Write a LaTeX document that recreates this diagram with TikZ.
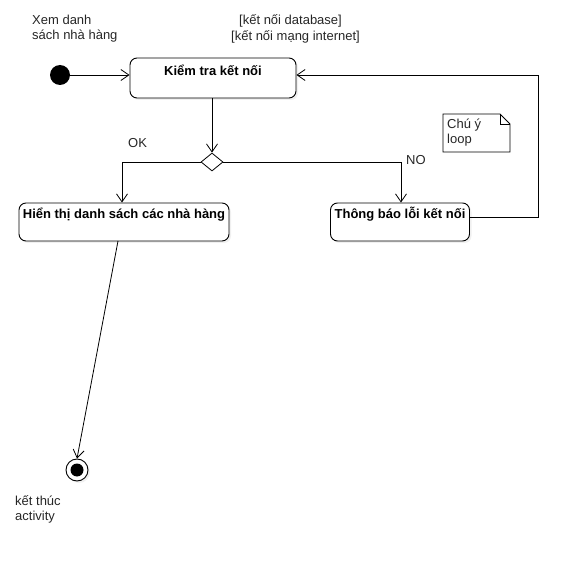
\documentclass[tikz,border=0pt]{standalone}
\usepackage{fontspec}
\setmainfont{Liberation Sans}
\usetikzlibrary{arrows.meta,shapes.geometric,shadows}
\begin{document}
\begin{tikzpicture}[x=1pt,y=-1pt,
  font=\fontsize{13}{15}\selectfont,
  act/.style={draw,rounded corners=7pt,fill=white,line width=0.9pt,
    drop shadow={shadow xshift=2pt,shadow yshift=-2pt,opacity=0.12}},
  flow/.style={draw,line width=0.8pt,-{Straight Barb[length=8pt,width=11pt]}},
  actlbl/.style={font=\fontsize{13}{15}\selectfont\bfseries,inner sep=0pt},
  txt/.style={inner sep=0pt,align=left,anchor=north west,text=black!85}]
\useasboundingbox (0,0) rectangle (579,567);

% start node
\node (start) [circle,fill=black,minimum size=20pt,inner sep=0pt] at (60,75) {};
\node[txt] (startlbl) at (32,15) {Xem danh\\sách nhà hàng};

% guard conditions
\node[txt] (guard1) at (239,14) {[kết nối database]};
\node[txt] (guard2) at (231,30) {[kết nối mạng internet]};

% activities
\node (check) [act,minimum width=166pt,minimum height=40pt] at (213,78) {};
\node[actlbl] at (213,70.5) {Kiểm tra kết nối};

\node (show) [act,minimum width=210pt,minimum height=38pt] at (124,222) {};
\node[actlbl] at (124,214.5) {Hiển thị danh sách các nhà hàng};

\node (err) [act,minimum width=139pt,minimum height=38pt] at (400,222) {};
\node[actlbl] at (400,214.5) {Thông báo lỗi kết nối};

% decision
\node (dec) [diamond,draw,fill=white,line width=0.8pt,minimum width=22pt,minimum height=18pt,inner sep=0pt] at (212,162) {};

% final node
\node (end) [circle,draw,fill=white,line width=0.9pt,minimum size=22pt,inner sep=0pt,
  drop shadow={shadow xshift=2pt,shadow yshift=-2pt,opacity=0.12}] at (77,470) {};
\node (endin) [circle,fill=black,minimum size=13pt,inner sep=0pt] at (77,470) {};
\node[txt] (endlbl) at (15,495) {kết thúc\\activity};

% note
\draw[line width=0.8pt,fill=white] (443,114) -- (500,114) -- (510,124) -- (510,152) -- (443,152) -- cycle;
\draw[line width=0.8pt] (500,114) -- (500,124) -- (510,124);
\node[txt] (note) at (447,119) {Chú ý\\loop};

% flows
\draw[flow] (start) -- (check.west |- start);
\draw[flow] (check.south -| dec) -- (dec.north);
\coordinate (okc) at (122,162);
\coordinate (noc) at (401,162);
\draw[flow] (dec.west) -- (okc) -- (show.north -| okc);
\draw[flow] (dec.east) -- (noc) -- (err.north -| noc);
\node[txt] (ok) at (128,138) {OK};
\node[txt] (no) at (406,155) {NO};

\coordinate (loopa) at (538,217);
\coordinate (loopb) at (538,75);
\draw[flow] (err.east |- loopa) -- (loopa) -- (loopb) -- (check.east |- loopb);

\coordinate (showout) at (118,241);
\draw[flow] (showout) -- (end.north);
\end{tikzpicture}
\end{document}
